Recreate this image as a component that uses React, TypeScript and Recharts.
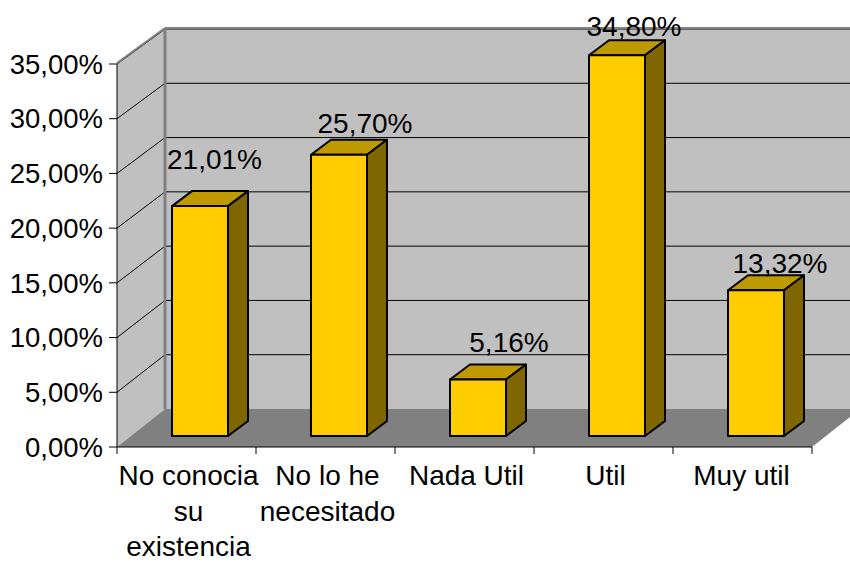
import React from 'react';
import { BarChart, Bar, XAxis, YAxis, LabelList, usePlotArea } from 'recharts';

// values
const categories = ['No conocia su existencia', 'No lo he necesitado', 'Nada Util', 'Util', 'Muy util'];
const categoryLines = [['No conocia', 'su', 'existencia'], ['No lo he', 'necesitado'], ['Nada Util'], ['Util'], ['Muy util']];
const shares = [21.01, 25.7, 5.16, 34.8, 13.32];
const yTicks = [0, 5, 10, 15, 20, 25, 30, 35];

const data = categories.map((name, i) => ({ name, share: shares[i], lines: categoryLines[i] }));

// 3d look
const WALL_DX = 48;
const WALL_DY_FLOOR = 38;
const WALL_DY_TOP = 35;
const BAR_SHIFT_X = 13;
const BAR_SHIFT_Y = 11;
const SIDE_DX = 20;
const SIDE_DY = 15;

// excel placed these labels by hand, offsets from the bar
const labelNudgeX = [14.5, 26, 31, 17, 24];
const labelRise = [37, 22, 28, 19, 17];
const tickNudgeX = [2, 2, 2, 2, -1];
const tickBaselines = [485, 521, 555.5];

const FONT = '"Liberation Sans", Arial, sans-serif';
const FONT_SIZE = 28;

const fmt = (v: number) => v.toFixed(2).replace('.', ',') + '%';

const Walls = () => {
  const plot = usePlotArea();
  if (!plot) return null;
  const { x, y, width, height } = plot;
  const bottom = y + height;
  const right = x + width;
  const yOf = (v: number) => bottom - (v / 35) * height;
  // back wall is a touch shorter than the front plane
  const backY = (v: number) => yOf(v) - (WALL_DY_FLOOR + ((WALL_DY_TOP - WALL_DY_FLOOR) * v) / 35);
  const points = (p: number[][]) => p.map((q) => q.join(',')).join(' ');
  const backX = x + WALL_DX;
  return (
    <g>
      <polygon fill="#c0c0c0" points={points([[x, bottom], [backX, backY(0)], [backX, backY(35)], [x, y]])} />
      <rect x={backX} y={backY(35)} width={width} height={backY(0) - backY(35)} fill="#c0c0c0" />
      <polygon fill="#808080" points={points([[x, bottom], [backX, backY(0)], [right + WALL_DX, backY(0)], [right, bottom]])} />
      {yTicks.filter((t) => t > 0).map((t) => (
        <g key={t}>
          <line x1={x} y1={yOf(t)} x2={backX} y2={backY(t)} stroke="#000" strokeWidth={1} />
          <line x1={backX} y1={backY(t)} x2={right + WALL_DX} y2={backY(t)} stroke="#000" strokeWidth={1} />
        </g>
      ))}
      <line x1={x} y1={y - 1} x2={backX} y2={backY(35) - 1} stroke="#808080" strokeWidth={2} />
      <line x1={backX} y1={backY(35) - 1} x2={right + WALL_DX} y2={backY(35) - 1} stroke="#808080" strokeWidth={2} />
      <line x1={backX} y1={backY(35)} x2={backX} y2={backY(0)} stroke="#808080" strokeWidth={3} />
      {categories.map((_, i) => (
        <line key={i} x1={x + ((i + 1) * width) / categories.length} y1={bottom} x2={x + ((i + 1) * width) / categories.length} y2={bottom + 7} stroke="#000" />
      ))}
      <line x1={x} y1={bottom} x2={x} y2={bottom + 7} stroke="#000" />
    </g>
  );
};

const Bar3D = (props: any) => {
  const { x, y, width, height } = props;
  const left = x + BAR_SHIFT_X;
  const top = y - BAR_SHIFT_Y;
  const right = left + width;
  const bottom = top + height;
  return (
    <g stroke="#000" strokeWidth={2} strokeLinejoin="round">
      <polygon fill="#bf9900" points={`${left},${top} ${left + SIDE_DX},${top - SIDE_DY} ${right + SIDE_DX},${top - SIDE_DY} ${right},${top}`} />
      <polygon fill="#806600" points={`${right},${top} ${right + SIDE_DX},${top - SIDE_DY} ${right + SIDE_DX},${bottom - SIDE_DY} ${right},${bottom}`} />
      <rect x={left} y={top} width={width} height={height} fill="#ffcc00" />
    </g>
  );
};

const BarValue = (props: any) => {
  const { x, y, width, value, index } = props;
  return (
    <text
      x={x + BAR_SHIFT_X + width / 2 + labelNudgeX[index]}
      y={y - BAR_SHIFT_Y - labelRise[index]}
      textAnchor="middle"
      fontFamily={FONT}
      fontSize={FONT_SIZE}
      fill="#000"
    >
      {fmt(value)}
    </text>
  );
};

const CategoryTick = (props: any) => {
  const { x, payload, index } = props;
  const lines = categoryLines[index] || [payload.value];
  return (
    <text textAnchor="middle" fontFamily={FONT} fontSize={FONT_SIZE} fill="#000">
      {lines.map((line: string, i: number) => (
        <tspan key={i} x={x + tickNudgeX[index]} y={tickBaselines[i]}>
          {line}
        </tspan>
      ))}
    </text>
  );
};

export default function App() {
  return (
    <div style={{ position: 'absolute', left: 0, top: 0, width: 850, height: 562, background: '#fff' }}>
      <BarChart width={850} height={562} data={data} margin={{ top: 64, right: 38, bottom: 0, left: 0 }} barSize={56}>
        <Walls />
        <XAxis
          dataKey="name"
          interval={0}
          height={115}
          tickLine={false}
          axisLine={{ stroke: '#000' }}
          tick={<CategoryTick />}
        />
        <YAxis
          width={117}
          domain={[0, 35]}
          ticks={yTicks}
          tickFormatter={(v: number) => fmt(v)}
          tickSize={8}
          tickMargin={6}
          axisLine={{ stroke: '#000' }}
          tickLine={{ stroke: '#000' }}
          tick={{ fontFamily: FONT, fontSize: 27.5, fill: '#000' }}
        />
        <Bar dataKey="share" isAnimationActive={false} shape={<Bar3D />}>
          <LabelList dataKey="share" content={<BarValue />} />
        </Bar>
      </BarChart>
    </div>
  );
}
